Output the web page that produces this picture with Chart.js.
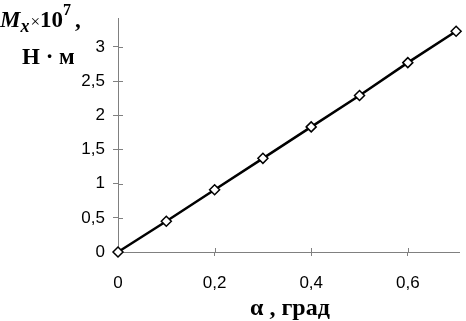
<!DOCTYPE html>
<html>
<head>
<meta charset="utf-8">
<script src="https://cdn.jsdelivr.net/npm/chart.js@4/dist/chart.umd.min.js"></script>
<style>
  html, body { margin: 0; padding: 0; background: #fff; }
  #wrap { position: relative; width: 466px; height: 321px; overflow: hidden; }
  canvas { position: absolute; left: 0; top: 0; }
  .lbl { position: absolute; font-family: 'Liberation Serif', 'Times New Roman', serif; font-weight: bold;
         font-size: 23px; line-height: 1; white-space: nowrap; color: #000; }
  .sub { font-size: 18px; font-style: italic; position: relative; top: 5px; }
  .times { font-size: 17px; font-weight: normal; margin-left: 1px; }
  .sup { font-size: 16px; position: relative; top: -12px; }
</style>
</head>
<body>
<div id="wrap">
  <canvas id="chart" width="466" height="321"></canvas>
  <div class="lbl" style="left:0px; top:8px;"><i>M</i><span class="sub">x</span><span class="times">×</span>10<span class="sup">7</span><span style="margin-left:4px">,</span></div>
  <div class="lbl" style="left:22px; top:45px;">Н · м</div>
  <div class="lbl" style="left:250px; top:295px; font-size:24px;">α , град</div>
</div>
<script>
// angle, degrees
const alphaValues = [0, 0.1, 0.2, 0.3, 0.4, 0.5, 0.6, 0.7];
// moment Mx, x10^7 N*m
const momentValues = [0, 0.45, 0.91, 1.37, 1.83, 2.29, 2.77, 3.23];

const xTickValues = [0, 0.2, 0.4, 0.6];
const xTickLabels = ['0', '0,2', '0,4', '0,6'];
const yTickValues = [0, 0.5, 1, 1.5, 2, 2.5, 3];
const yTickLabels = ['0', '0,5', '1', '1,5', '2', '2,5', '3'];

const axisColor = '#808080';

// tick marks cross the axis: draw the inner half here
const crossTicks = {
  id: 'crossTicks',
  afterDatasetsDraw(chart) {
    const ctx = chart.ctx;
    const xs = chart.scales.x, ys = chart.scales.y;
    ctx.save();
    ctx.strokeStyle = axisColor;
    ctx.lineWidth = 1;
    ctx.beginPath();
    xTickValues.forEach(v => {
      if (v === 0) return;
      const px = Math.round(xs.getPixelForValue(v)) + 0.5;
      ctx.moveTo(px, xs.top - 4);
      ctx.lineTo(px, xs.top);
    });
    yTickValues.forEach(v => {
      if (v === 0) return;
      const py = Math.round(ys.getPixelForValue(v)) + 0.5;
      ctx.moveTo(ys.right, py);
      ctx.lineTo(ys.right + 5, py);
    });
    ctx.stroke();
    ctx.restore();
  }
};

new Chart(document.getElementById('chart'), {
  type: 'line',
  data: {
    datasets: [{
      data: alphaValues.map((a, i) => ({ x: a, y: momentValues[i] })),
      borderColor: '#000',
      borderWidth: 2.5,
      pointStyle: 'rectRot',
      pointRadius: 5,
      pointBackgroundColor: '#fff',
      pointBorderColor: '#000',
      pointBorderWidth: 1.5,
      tension: 0,
      clip: false
    }]
  },
  options: {
    responsive: false,
    devicePixelRatio: 1,
    animation: false,
    layout: { padding: { top: 13, right: 4, left: 0, bottom: 0 } },
    plugins: { legend: { display: false }, tooltip: { enabled: false } },
    scales: {
      x: {
        type: 'linear',
        min: 0,
        max: 0.707,
        afterBuildTicks: s => { s.ticks = xTickValues.map(v => ({ value: v })); },
        afterFit: s => { s.height = 69; },
        grid: { drawOnChartArea: false, drawTicks: true, tickLength: 4, color: axisColor },
        border: { display: true, color: axisColor, width: 1 },
        ticks: {
          autoSkip: false,
          maxRotation: 0,
          padding: 17,
          color: '#000',
          font: { family: "'Liberation Sans', Arial, sans-serif", size: 17 },
          callback: (v, i) => xTickLabels[i]
        }
      },
      y: {
        type: 'linear',
        min: 0,
        max: 3.42,
        afterBuildTicks: s => { s.ticks = yTickValues.map(v => ({ value: v })); },
        afterFit: s => { s.width = 118; },
        grid: { drawOnChartArea: false, drawTicks: true, tickLength: 5, color: axisColor },
        border: { display: true, color: axisColor, width: 1 },
        ticks: {
          autoSkip: false,
          padding: 8,
          color: '#000',
          font: { family: "'Liberation Sans', Arial, sans-serif", size: 17 },
          callback: (v, i) => yTickLabels[i]
        }
      }
    }
  },
  plugins: [crossTicks]
});
</script>
</body>
</html>
